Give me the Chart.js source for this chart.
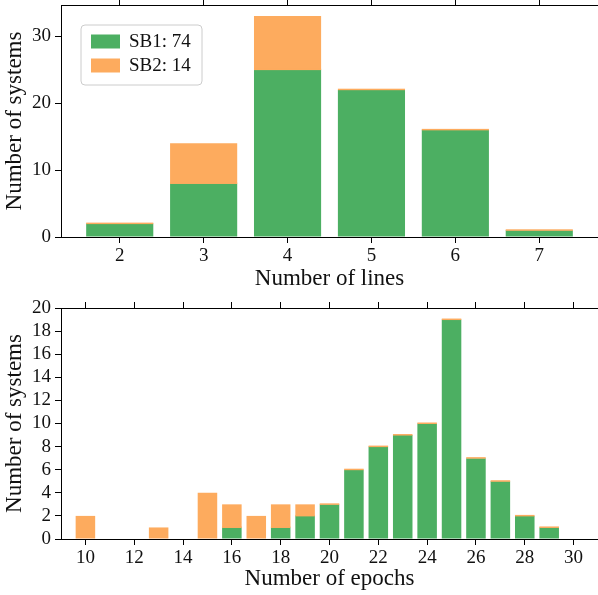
<!DOCTYPE html>
<html>
<head>
<meta charset="utf-8">
<script src="https://cdn.jsdelivr.net/npm/chart.js@4"></script>
<style>
html,body{margin:0;padding:0;background:#fff;overflow:hidden}
#linesChart{position:absolute;left:0;top:0}
#epochsChart{position:absolute;left:0;top:295px}
</style>
</head>
<body>
<canvas id="linesChart" width="598" height="295"></canvas>
<canvas id="epochsChart" width="598" height="300"></canvas>
<script>
// values
const lineCounts = [2, 3, 4, 5, 6, 7];
const linesSB1 = [2, 8, 25, 22, 16, 1];
const linesSB2 = [0, 6, 8, 0, 0, 0];

const epochCounts = [10, 13, 15, 16, 17, 18, 19, 20, 21, 22, 23, 24, 25, 26, 27, 28, 29];
const epochsSB1 = [0, 0, 0, 1, 0, 1, 2, 3, 6, 8, 9, 10, 19, 7, 5, 2, 1];
const epochsSB2 = [2, 1, 4, 2, 2, 2, 1, 0, 0, 0, 0, 0, 0, 0, 0, 0, 0];

const seriesLabels = ['SB1: 74', 'SB2: 14'];

const linesXTicks = [2, 3, 4, 5, 6, 7];
const linesYTicks = [0, 10, 20, 30];
const epochsXTicks = [10, 12, 14, 16, 18, 20, 22, 24, 26, 28, 30];
const epochsYTicks = [0, 2, 4, 6, 8, 10, 12, 14, 16, 18, 20];

const GREEN = '#4caf62';
const ORANGE = '#fdab5e';
const FONT = '"Liberation Serif", "DejaVu Serif", serif';
const INK = '#111';

// legend drawn inside the plot, with a rounded frame like matplotlib
const boxLegend = {
  id: 'boxLegend',
  afterDraw(chart, args, opts){
    if(!opts.show) return;
    const ctx = chart.ctx;
    const x = chart.chartArea.left + 20, y = chart.chartArea.top + 20;
    const w = 121, h = 60, r = 4;
    ctx.save();
    ctx.beginPath();
    ctx.moveTo(x + r, y);
    ctx.arcTo(x + w, y, x + w, y + h, r);
    ctx.arcTo(x + w, y + h, x, y + h, r);
    ctx.arcTo(x, y + h, x, y, r);
    ctx.arcTo(x, y, x + w, y, r);
    ctx.closePath();
    ctx.fillStyle = 'rgba(255,255,255,0.8)';
    ctx.fill();
    ctx.strokeStyle = '#cccccc';
    ctx.lineWidth = 1;
    ctx.stroke();
    ctx.font = '19px ' + FONT;
    ctx.textBaseline = 'middle';
    chart.data.datasets.forEach((ds, i)=>{
      const sy = y + 9.5 + i * 24;
      ctx.fillStyle = ds.backgroundColor;
      ctx.fillRect(x + 10, sy, 29, 14);
      ctx.fillStyle = INK;
      ctx.fillText(ds.label, x + 48, sy + 7.5);
    });
    ctx.restore();
  }
};

// thin orange edge along the top of every green bar (as in the original, where SB2 sits on top)
const topEdge = {
  id: 'topEdge',
  afterDatasetsDraw(chart){
    const ctx = chart.ctx;
    const meta = chart.getDatasetMeta(0);
    ctx.save();
    ctx.fillStyle = ORANGE;
    meta.data.forEach((bar, i)=>{
      if(!chart.data.datasets[0].data[i].y) return;
      const p = bar.getProps(['x', 'y', 'width'], true);
      ctx.fillRect(p.x - p.width / 2, p.y - 1, p.width, 1.5);
    });
    ctx.restore();
  }
};

function tickSetter(values){
  return s => { s.ticks = values.map(v => ({value: v})); };
}

function axisLines(){
  return {
    grid: { display: true, offset: false, drawOnChartArea: false, drawTicks: true, tickLength: 6, color: '#000', tickColor: '#000', lineWidth: 1 },
    border: { display: true, color: '#000', width: 1 }
  };
}

function noPad(s){
  s.paddingTop = 0; s.paddingBottom = 0; s.paddingLeft = 0; s.paddingRight = 0;
}

function makeChart(canvasId, cfg){
  const toPoints = (xs, ys) => xs.map((x, i) => ({x, y: ys[i]}));
  return new Chart(document.getElementById(canvasId), {
    type: 'bar',
    data: {
      datasets: [
        { label: seriesLabels[0], data: toPoints(cfg.xs, cfg.sb1), backgroundColor: GREEN, borderWidth: 0 },
        { label: seriesLabels[1], data: toPoints(cfg.xs, cfg.sb2), backgroundColor: ORANGE, borderWidth: 0 }
      ]
    },
    options: {
      responsive: false,
      animation: false,
      layout: { padding: 0 },
      categoryPercentage: 0.8,
      barPercentage: 1,
      plugins: { legend: { display: false }, tooltip: { enabled: false }, boxLegend: { show: cfg.legend } },
      scales: {
        x: {
          type: 'linear', stacked: true, offset: false, min: cfg.xMin, max: cfg.xMax,
          afterBuildTicks: tickSetter(cfg.xTicks),
          afterFit: s => { s.height = cfg.bottomH; noPad(s); },
          ...axisLines(),
          ticks: { color: INK, font: { family: FONT, size: 19 }, padding: 2, maxRotation: 0, autoSkip: false },
          title: { display: true, text: cfg.xTitle, color: INK, font: { family: FONT, size: 23 }, padding: { top: 0, bottom: 2 } }
        },
        x2: {
          type: 'linear', position: 'top', display: true, offset: false, min: cfg.xMin, max: cfg.xMax,
          afterBuildTicks: tickSetter(cfg.xTicks),
          afterFit: s => { s.height = cfg.topH; noPad(s); },
          ...axisLines(),
          ticks: { display: false, autoSkip: false }
        },
        y: {
          stacked: true, min: 0, max: cfg.yMax,
          afterBuildTicks: tickSetter(cfg.yTicks),
          afterFit: s => { s.width = 61; noPad(s); },
          ...axisLines(),
          ticks: { color: INK, font: { family: FONT, size: 19 }, padding: 4, autoSkip: false },
          title: { display: true, text: 'Number of systems', color: INK, font: { family: FONT, size: 23 }, padding: { top: 1, bottom: 0 } }
        }
      }
    },
    plugins: [topEdge, boxLegend]
  });
}

makeChart('linesChart', {
  xs: lineCounts, sb1: linesSB1, sb2: linesSB2,
  xMin: 1.3, xMax: 7.7, yMax: 34.65,
  xTicks: linesXTicks, yTicks: linesYTicks,
  xTitle: 'Number of lines', topH: 5, bottomH: 58, legend: true
});

makeChart('epochsChart', {
  xs: epochCounts, sb1: epochsSB1, sb2: epochsSB2,
  xMin: 9, xMax: 31, yMax: 20,
  xTicks: epochsXTicks, yTicks: epochsYTicks,
  xTitle: 'Number of epochs', topH: 13, bottomH: 56, legend: false
});
</script>
</body>
</html>
